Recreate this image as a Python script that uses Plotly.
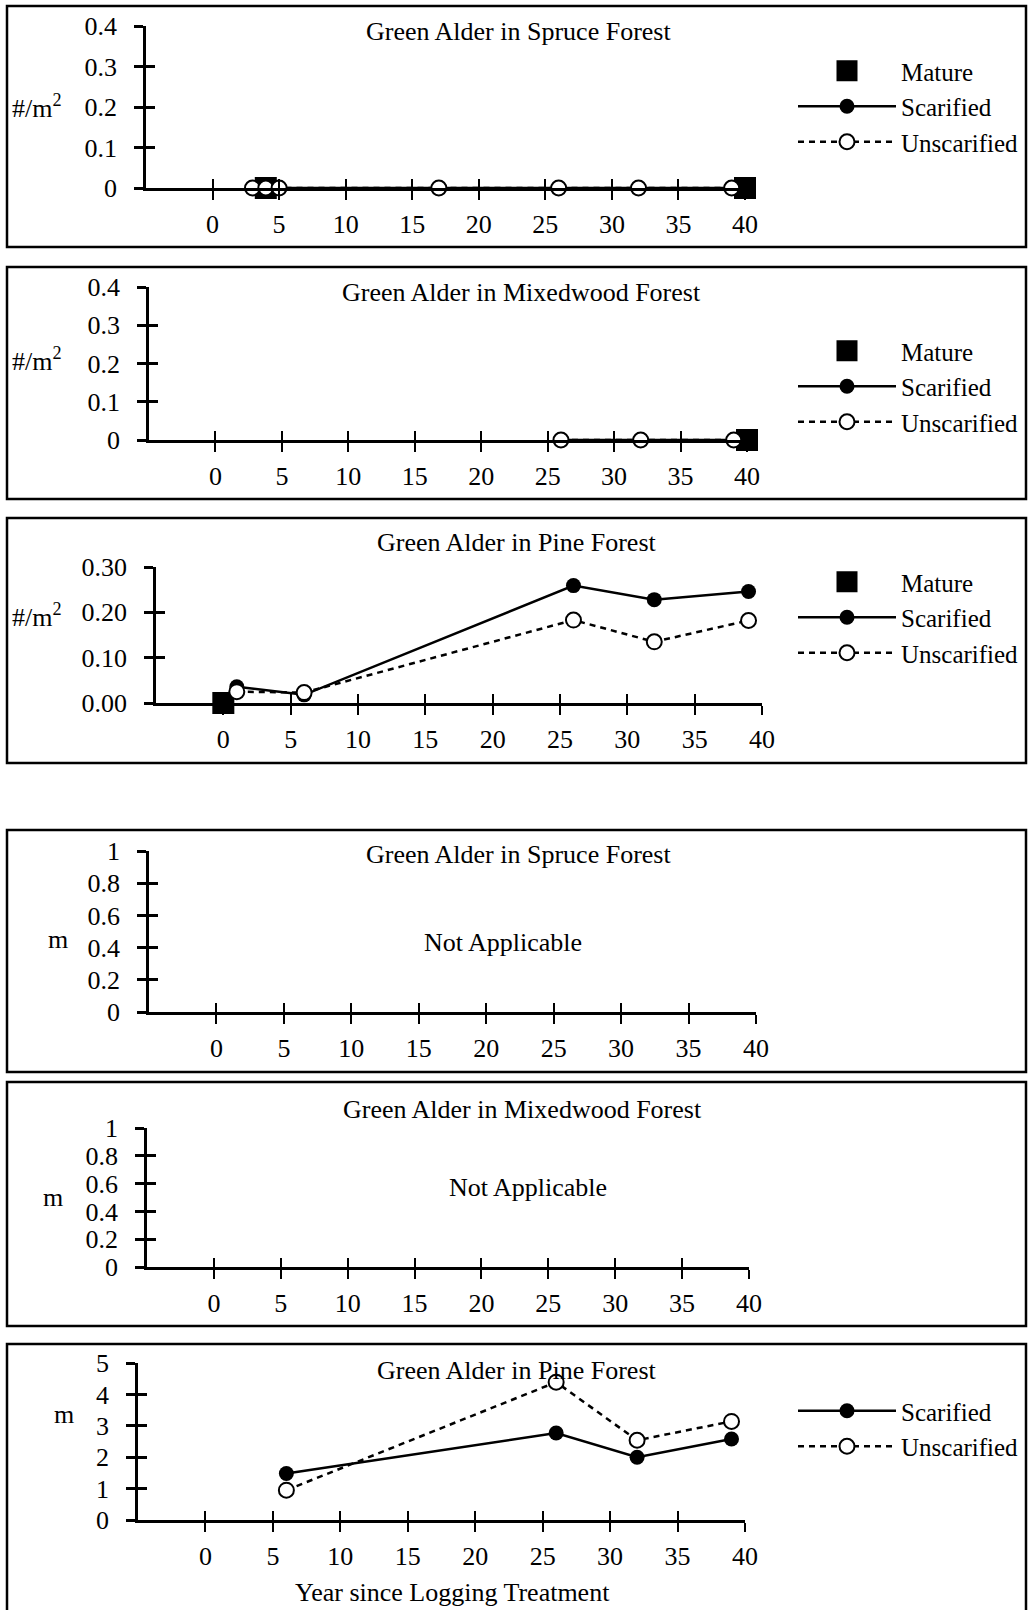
import plotly.graph_objects as go

W, H = 1029, 1610

# ---- Green Alder density (#/m2) by years since logging ----
spruce_mature_yr = [4, 40]
spruce_mature_den = [0, 0]
spruce_scar_yr = [3, 4, 5, 17, 26, 32, 39]
spruce_scar_den = [0, 0, 0, 0, 0, 0, 0]
spruce_unscar_yr = [3, 4, 5, 17, 26, 32, 39]
spruce_unscar_den = [0, 0, 0, 0, 0, 0, 0]

mixed_mature_yr = [40]
mixed_mature_den = [0]
mixed_scar_yr = [26, 32, 39]
mixed_scar_den = [0, 0, 0]
mixed_unscar_yr = [26, 32, 39]
mixed_unscar_den = [0, 0, 0]

pine_mature_yr = [0]
pine_mature_den = [0]
pine_scar_yr = [1, 6, 26, 32, 39]
pine_scar_den = [0.036, 0.018, 0.259, 0.228, 0.246]
pine_unscar_yr = [1, 6, 26, 32, 39]
pine_unscar_den = [0.025, 0.023, 0.183, 0.135, 0.182]

# ---- Green Alder height (m) ----
pine_scar_ht_yr = [6, 26, 32, 39]
pine_scar_ht = [1.48, 2.77, 2.0, 2.58]
pine_unscar_ht_yr = [6, 26, 32, 39]
pine_unscar_ht = [0.95, 4.39, 2.54, 3.14]

# ---- tick labels ----
year_ticks = [0, 5, 10, 15, 20, 25, 30, 35, 40]
den_ticks_a = [0, 0.1, 0.2, 0.3, 0.4]
den_labels_a = ["0", "0.1", "0.2", "0.3", "0.4"]
den_ticks_b = [0, 0.1, 0.2, 0.3]
den_labels_b = ["0.00", "0.10", "0.20", "0.30"]
ht_ticks_a = [0, 0.2, 0.4, 0.6, 0.8, 1]
ht_labels_a = ["0", "0.2", "0.4", "0.6", "0.8", "1"]
ht_ticks_b = [0, 1, 2, 3, 4, 5]
ht_labels_b = ["0", "1", "2", "3", "4", "5"]

titles = [
    "Green Alder in Spruce Forest",
    "Green Alder in Mixedwood Forest",
    "Green Alder in Pine Forest",
    "Green Alder in Spruce Forest",
    "Green Alder in Mixedwood Forest",
    "Green Alder in Pine Forest",
]
series_names = ["Mature", "Scarified", "Unscarified"]

FONT = "Liberation Serif"
FS = 26
LEG_FS = 25

# pixel geometry of each panel: axis origin x (year -5), x at year 40,
# y pixel of the zero line, y pixel of the top tick, frame box, title/labels
panels = [
    dict(x0=146, x1=745, y0=188, yt=26, ymax=0.4, box=(7, 6, 1026, 247),
         yt_vals=den_ticks_a, yt_text=den_labels_a, title_xy=(518, 31),
         unit="#/m<sup>2</sup>", unit_xy=(37, 107), legend="legend", leg_y=48),
    dict(x0=149, x1=747, y0=440, yt=287, ymax=0.4, box=(7, 267, 1026, 499),
         yt_vals=den_ticks_a, yt_text=den_labels_a, title_xy=(521, 293),
         unit="#/m<sup>2</sup>", unit_xy=(37, 360), legend="legend2", leg_y=328),
    dict(x0=156, x1=762, y0=703, yt=567, ymax=0.3, box=(7, 518, 1026, 763),
         yt_vals=den_ticks_b, yt_text=den_labels_b, title_xy=(517, 542),
         unit="#/m<sup>2</sup>", unit_xy=(37, 615), legend="legend3", leg_y=559),
    dict(x0=149, x1=756, y0=1012, yt=851, ymax=1.0, box=(7, 830, 1026, 1072),
         yt_vals=ht_ticks_a, yt_text=ht_labels_a, title_xy=(518, 854),
         unit="m", unit_xy=(58, 939), legend=None, leg_y=None,
         note_xy=(503, 942)),
    dict(x0=147, x1=749, y0=1267, yt=1128, ymax=1.0, box=(7, 1082, 1026, 1326),
         yt_vals=ht_ticks_a, yt_text=ht_labels_a, title_xy=(522, 1109),
         unit="m", unit_xy=(53, 1197), legend=None, leg_y=None,
         note_xy=(528, 1187)),
    # this frame runs past the bottom edge of the page
    dict(x0=138, x1=745, y0=1520, yt=1363, ymax=5.0, box=(7, 1344, 1026, 1618),
         yt_vals=ht_ticks_b, yt_text=ht_labels_b, title_xy=(517, 1370),
         unit="m", unit_xy=(64, 1414), legend="legend4", leg_y=1388),
]

panel_series = [
    (spruce_mature_yr, spruce_mature_den, spruce_scar_yr, spruce_scar_den,
     spruce_unscar_yr, spruce_unscar_den),
    (mixed_mature_yr, mixed_mature_den, mixed_scar_yr, mixed_scar_den,
     mixed_unscar_yr, mixed_unscar_den),
    (pine_mature_yr, pine_mature_den, pine_scar_yr, pine_scar_den,
     pine_unscar_yr, pine_unscar_den),
    None,
    None,
    (None, None, pine_scar_ht_yr, pine_scar_ht, pine_unscar_ht_yr, pine_unscar_ht),
]


def px_x(p):
    return p / W


def px_y(p):
    return 1 - p / H


fig = go.Figure()
layout = dict(
    width=W, height=H,
    margin=dict(l=0, r=0, t=0, b=0, pad=0, autoexpand=False),
    paper_bgcolor="white", plot_bgcolor="rgba(0,0,0,0)",
    font=dict(family=FONT, size=FS, color="black"),
    showlegend=True,
)
annotations = []
shapes = []

tick_font = dict(family=FONT, size=FS, color="black")

for i, p in enumerate(panels, start=1):
    sfx = "" if i == 1 else str(i)
    ov = str(i + 6)
    xdom = [px_x(p["x0"]), px_x(p["x1"])]
    ydom = [px_y(p["y0"]), px_y(p["yt"])]
    xr = [-5, 40]
    yr = [0, p["ymax"]]

    # main axes: outer half of the crossing ticks and the labels
    layout["xaxis" + sfx] = dict(
        domain=xdom, range=xr, anchor="y" + sfx, showgrid=False, zeroline=False,
        showline=True, linewidth=2.5, linecolor="black",
        ticks="outside", ticklen=9, tickwidth=2, tickcolor="black",
        tickvals=year_ticks, ticktext=[str(v) for v in year_ticks],
        tickfont=tick_font, ticklabelstandoff=2, fixedrange=True,
    )
    layout["yaxis" + sfx] = dict(
        domain=ydom, range=yr, anchor="x" + sfx, showgrid=False, zeroline=False,
        showline=True, linewidth=2.5, linecolor="black",
        ticks="outside", ticklen=9, tickwidth=2.5, tickcolor="black",
        tickvals=p["yt_vals"], ticktext=p["yt_text"],
        tickfont=tick_font, ticklabelstandoff=12, fixedrange=True,
    )
    # overlay axes: inner half of the crossing ticks
    layout["xaxis" + ov] = dict(
        overlaying="x" + sfx, anchor="y" + sfx, range=xr, side="bottom",
        showgrid=False, zeroline=False, showline=False,
        ticks="inside", ticklen=9, tickwidth=2, tickcolor="black",
        tickvals=year_ticks, showticklabels=False, fixedrange=True,
    )
    layout["yaxis" + ov] = dict(
        overlaying="y" + sfx, anchor="x" + sfx, range=yr, side="left",
        showgrid=False, zeroline=False, showline=False,
        ticks="inside", ticklen=9, tickwidth=2.5, tickcolor="black",
        tickvals=p["yt_vals"], showticklabels=False, fixedrange=True,
    )

    xa, ya = "x" + sfx, "y" + sfx
    # empty traces so the tick-only overlay axes get drawn
    fig.add_trace(go.Scatter(x=[], y=[], xaxis="x" + ov, yaxis=ya,
                             showlegend=False, hoverinfo="skip"))
    fig.add_trace(go.Scatter(x=[], y=[], xaxis=xa, yaxis="y" + ov,
                             showlegend=False, hoverinfo="skip"))

    data = panel_series[i - 1]
    if data is None:
        fig.add_trace(go.Scatter(x=[], y=[], xaxis=xa, yaxis=ya, showlegend=False))
    else:
        m_x, m_y, s_x, s_y, u_x, u_y = data
        leg = p["legend"]
        if m_x is not None:
            fig.add_trace(go.Scatter(
                x=m_x, y=m_y, xaxis=xa, yaxis=ya, mode="markers",
                name=series_names[0], legend=leg, cliponaxis=False,
                marker=dict(symbol="square", size=17, color="black",
                            line=dict(color="black", width=5)),
            ))
        fig.add_trace(go.Scatter(
            x=s_x, y=s_y, xaxis=xa, yaxis=ya, mode="lines+markers",
            name=series_names[1], legend=leg, cliponaxis=False,
            line=dict(color="black", width=2.5),
            marker=dict(symbol="circle", size=15, color="black"),
        ))
        fig.add_trace(go.Scatter(
            x=u_x, y=u_y, xaxis=xa, yaxis=ya, mode="lines+markers",
            name=series_names[2], legend=leg, cliponaxis=False,
            line=dict(color="black", width=2.5, dash="6px,5px"),
            marker=dict(symbol="circle", size=15, color="white",
                        line=dict(color="black", width=2)),
        ))
        layout[leg] = dict(
            x=px_x(793), y=px_y(p["leg_y"]), xanchor="left", yanchor="top",
            bgcolor="rgba(0,0,0,0)", borderwidth=0, itemwidth=98,
            font=dict(family=FONT, size=LEG_FS, color="black"),
            tracegroupgap=0, itemclick=False, itemdoubleclick=False,
        )

    tx, ty = p["title_xy"]
    annotations.append(dict(
        text=titles[i - 1], xref="paper", yref="paper", x=px_x(tx), y=px_y(ty),
        xanchor="center", yanchor="middle", showarrow=False,
        font=dict(family=FONT, size=FS, color="black"),
    ))
    ux, uy = p["unit_xy"]
    annotations.append(dict(
        text=p["unit"], xref="paper", yref="paper", x=px_x(ux), y=px_y(uy),
        xanchor="center", yanchor="middle", showarrow=False,
        font=dict(family=FONT, size=FS, color="black"),
    ))
    if "note_xy" in p:
        nx, ny = p["note_xy"]
        annotations.append(dict(
            text="Not Applicable", xref="paper", yref="paper", x=px_x(nx), y=px_y(ny),
            xanchor="center", yanchor="middle", showarrow=False,
            font=dict(family=FONT, size=FS, color="black"),
        ))
    bx0, by0, bx1, by1 = p["box"]
    shapes.append(dict(
        type="rect", xref="paper", yref="paper",
        x0=px_x(bx0), x1=px_x(bx1), y0=px_y(by1), y1=px_y(by0),
        line=dict(color="black", width=2.5), fillcolor="rgba(0,0,0,0)",
    ))

annotations.append(dict(
    text="Year since Logging Treatment", xref="paper", yref="paper",
    x=px_x(452), y=px_y(1592), xanchor="center", yanchor="middle",
    showarrow=False, font=dict(family=FONT, size=FS, color="black"),
))

layout["annotations"] = annotations
layout["shapes"] = shapes
fig.update_layout(**layout)

fig.write_html("out.html", config={"displayModeBar": False})
